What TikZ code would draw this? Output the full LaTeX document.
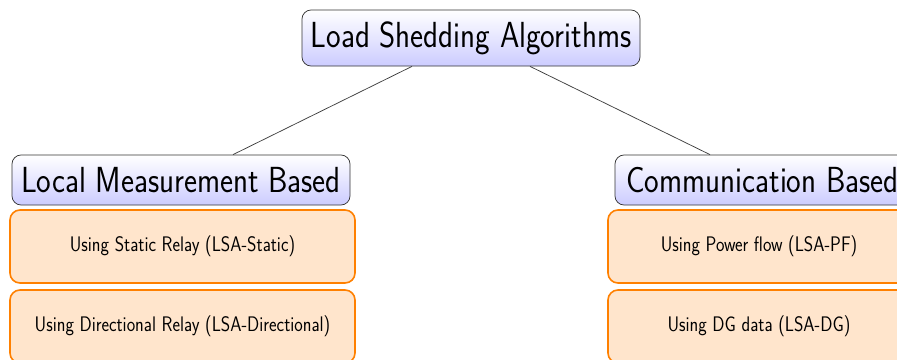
\documentclass[tikz,border=0pt]{standalone}
\usepackage{fontspec}
\usepackage{graphicx}
% labels are set slightly taller than wide
\newcommand{\tallbox}[1]{\scalebox{1}[1.17]{#1}}
\begin{document}
\begin{tikzpicture}[x=1pt,y=-1pt,
  catbox/.style={draw=black!80, line width=0.75pt, rounded corners=9pt,
    top color=white, bottom color=blue!20, font=\sffamily\fontsize{31}{34}\selectfont,
    inner sep=0pt},
  methodbox/.style={draw=orange, line width=1.6pt, rounded corners=10pt,
    fill=orange!20, font=\sffamily\fontsize{18}{21}\selectfont, inner sep=0pt},
  link/.style={draw=black!75, line width=0.75pt}]
\useasboundingbox (0,0) rectangle (897,359);
\clip (0,0) rectangle (897,359);

% top level category
\node[catbox, minimum width=338pt, minimum height=56pt] (root) at (471,38) {\raisebox{2pt}{\tallbox{Load Shedding Algorithms}}};

% two families of algorithms
\node[catbox, minimum width=338pt, minimum height=50pt] (local) at (181,180) {\tallbox{Local Measurement Based}};
\node[catbox, minimum width=295pt, minimum height=50pt] (comm) at (762.5,180) {\tallbox{Communication Based}};

% individual methods
\node[methodbox, minimum width=345pt, minimum height=73pt] (static) at (182.5,246.5) {\tallbox{Using Static Relay (LSA-Static)}};
\node[methodbox, minimum width=345pt, minimum height=73pt] (dir) at (182.5,326.5) {\tallbox{Using Directional Relay (LSA-Directional)}};
\node[methodbox, minimum width=302pt, minimum height=73pt] (pf) at (759,246.5) {\tallbox{Using Power flow (LSA-PF)}};
\node[methodbox, minimum width=302pt, minimum height=73pt] (dg) at (759,326.5) {\tallbox{Using DG data (LSA-DG)}};

% tree links
\draw[link] ([xshift=-59pt]root.south) -- ([xshift=52pt]local.north);
\draw[link] ([xshift=59pt]root.south) -- ([xshift=-52.5pt]comm.north);
\end{tikzpicture}
\end{document}
